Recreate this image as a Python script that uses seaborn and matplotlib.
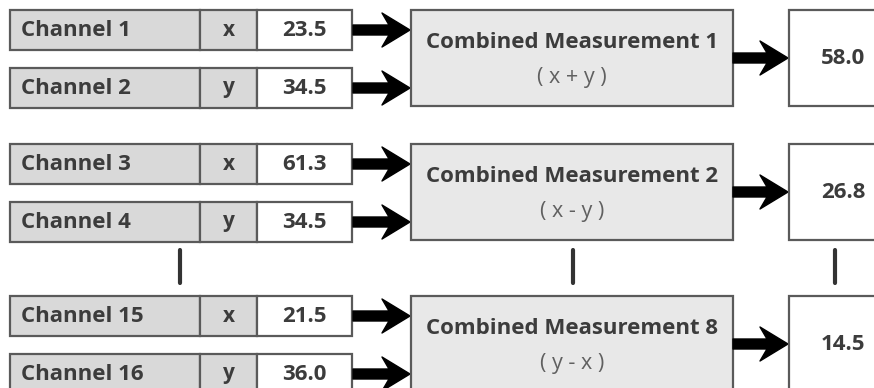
import matplotlib
matplotlib.use("Agg")
import matplotlib.pyplot as plt
from matplotlib.patches import Rectangle, FancyArrow
import seaborn as sns

# ---- data ----
channels = ["Channel 1", "Channel 2", "Channel 3", "Channel 4", "Channel 15", "Channel 16"]
variables = ["x", "y", "x", "y", "x", "y"]
values = [23.5, 34.5, 61.3, 34.5, 21.5, 36.0]
combined_names = ["Combined Measurement 1", "Combined Measurement 2", "Combined Measurement 8"]
formulas = ["( x + y )", "( x - y )", "( y - x )"]
results = [58.0, 26.8, 14.5]

sns.set_style("white")
plt.rcParams["font.family"] = ["Open Sans", "DejaVu Sans"]

W, H = 874, 388
fig = plt.figure(figsize=(W / 100, H / 100), dpi=100)
ax = fig.add_axes([0, 0, 1, 1])
ax.set_xlim(0, W)
ax.set_ylim(H, 0)
ax.axis("off")

edge = "#5a5a5a"
lw = 1.6
txt = "#3c3c3c"
fill_ch = "#d9d9d9"
fill_cm = "#e8e8e8"
fs = 16

group_tops = [10, 144, 296]
row_h = 40
row_gap = 58
box_h = 96

x0, x1, x2, x3 = 10, 200, 257, 352
cm_l, cm_r = 411, 733
res_l, res_r = 789, 900


def arrow(xs, xe, y):
    ax.add_patch(FancyArrow(xs, y, xe - xs, 0, width=10, head_width=34,
                            head_length=28, overhang=0.25,
                            length_includes_head=True, fc="black", ec="black",
                            lw=1, joinstyle="round"))


for g, top in enumerate(group_tops):
    for r in range(2):
        i = g * 2 + r
        yt = top + r * row_gap
        yc = yt + row_h / 2
        ax.add_patch(Rectangle((x0, yt), x1 - x0, row_h, fc=fill_ch, ec=edge, lw=lw))
        ax.add_patch(Rectangle((x1, yt), x2 - x1, row_h, fc=fill_ch, ec=edge, lw=lw))
        ax.add_patch(Rectangle((x2, yt), x3 - x2, row_h, fc="white", ec=edge, lw=lw))
        ax.text(x0 + 11, yc, channels[i], ha="left", va="center", fontsize=fs,
                fontweight="bold", color=txt)
        ax.text((x1 + x2) / 2, yc, variables[i], ha="center", va="center",
                fontsize=fs - 1, fontweight="bold", color=txt)
        ax.text((x2 + x3) / 2, yc, f"{values[i]:.1f}", ha="center", va="center",
                fontsize=fs, fontweight="bold", color=txt)
        arrow(x3 + 1, cm_l - 1, yc)
    yc = top + box_h / 2
    ax.add_patch(Rectangle((cm_l, top), cm_r - cm_l, box_h, fc=fill_cm, ec=edge, lw=lw))
    ax.text((cm_l + cm_r) / 2, yc - 15, combined_names[g], ha="center", va="center",
            fontsize=fs, fontweight="bold", color=txt)
    ax.text((cm_l + cm_r) / 2, yc + 19, formulas[g], ha="center", va="center",
            fontsize=15.5, color="#606060")
    arrow(cm_r, res_l - 1, yc)
    ax.add_patch(Rectangle((res_l, top), res_r - res_l, box_h, fc="white", ec=edge, lw=lw))
    ax.text(843, yc, f"{results[g]:.1f}", ha="center", va="center", fontsize=fs,
            fontweight="bold", color=txt)

for xv in [180, 573, 835]:
    ax.plot([xv, xv], [250, 283], color="#333333", lw=3, solid_capstyle="round")

fig.savefig("out.png", dpi=100)
